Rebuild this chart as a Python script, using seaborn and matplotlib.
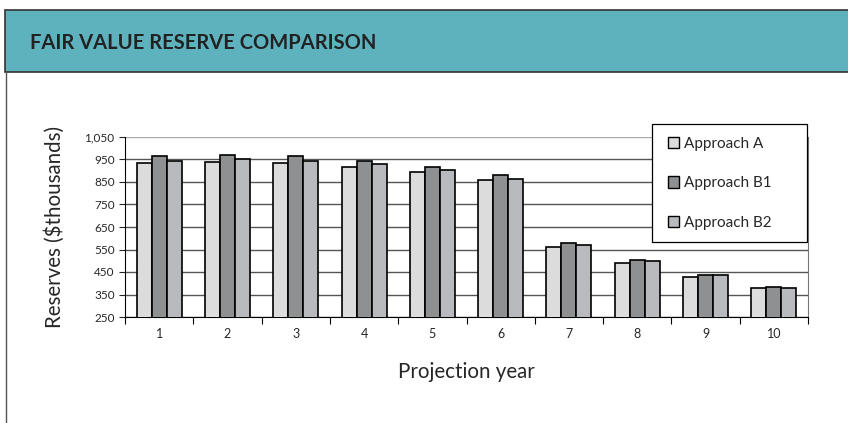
import matplotlib
matplotlib.use("Agg")
import matplotlib.pyplot as plt
from matplotlib.patches import Rectangle
from matplotlib.lines import Line2D
import numpy as np
import pandas as pd
import seaborn as sns

years = [1, 2, 3, 4, 5, 6, 7, 8, 9, 10]
approach_a = [935, 937, 933, 918, 893, 859, 562, 492, 428, 377]
approach_b1 = [964, 970, 967, 944, 918, 879, 580, 502, 438, 382]
approach_b2 = [944, 950, 944, 928, 902, 865, 572, 498, 435, 377]
series_names = ["Approach A", "Approach B1", "Approach B2"]
colors = ["#dcdcdd", "#8f9092", "#b9babd"]
y_ticks = [250, 350, 450, 550, 650, 750, 850, 950, 1050]

df = pd.DataFrame({
    "year": years * 3,
    "value": approach_a + approach_b1 + approach_b2,
    "approach": [s for s in series_names for _ in years],
})

sns.set_style("white")
plt.rcParams["font.family"] = ["Lato", "DejaVu Sans"]

fig = plt.figure(figsize=(8.48, 4.23), dpi=100)
ax = fig.add_axes([125 / 848, 1 - 317 / 423, 683 / 848, 180 / 423])

# header band
fig.patches.append(Rectangle((5 / 848, 1 - 72 / 423), 850 / 848, 62 / 423,
                             transform=fig.transFigure, facecolor="#5eb2be",
                             edgecolor="#333333", linewidth=1.2, zorder=0))
fig.lines.append(Line2D([5.5 / 848, 5.5 / 848], [0, 1 - 72 / 423],
                        transform=fig.transFigure, color="#555555", linewidth=1))
fig.text(30 / 848, 1 - 43 / 423, "FAIR VALUE RESERVE COMPARISON",
         fontsize=14.5, fontweight="bold", color="#222222", va="center")

sns.barplot(data=df, x="year", y="value", hue="approach", palette=colors,
            width=0.66, edgecolor="black", linewidth=1.2, ax=ax,
            saturation=1, legend=False, zorder=3)

ax.set_xlim(-0.5, 9.5)
ax.set_ylim(250, 1050)
ax.set_yticks(y_ticks)
ax.set_yticklabels([f"{v:,}" for v in y_ticks], fontsize=8.5)
ax.set_xticks(np.arange(-0.5, 10.5, 1.0), minor=True)
ax.tick_params(axis="x", which="major", labelsize=9, length=0, pad=8)
ax.tick_params(axis="x", which="minor", length=5, width=0.8, bottom=True,
               direction="out", color="black")
ax.tick_params(axis="y", length=4, direction="out", left=True, width=0.8)
for v in y_ticks:
    ax.axhline(v, color="#555555" if v < 1050 else "#aaaaaa", linewidth=1, zorder=1)

ax.spines["top"].set_visible(False)
ax.spines["left"].set_color("black")
ax.spines["bottom"].set_color("black")
ax.spines["right"].set_color("#777777")
ax.set_xlabel("Projection year", fontsize=14.8, labelpad=16)
ax.set_ylabel("Reserves ($thousands)", fontsize=14.8, labelpad=14)

# legend box
fig.patches.append(Rectangle((652 / 848, 1 - 242 / 423), 155 / 848, 118 / 423,
                             transform=fig.transFigure, facecolor="white",
                             edgecolor="black", linewidth=0.9, zorder=9))
handles = [Rectangle((0, 0), 1, 1, facecolor=c, edgecolor="black", linewidth=1)
           for c in colors]
leg = fig.legend(handles, series_names, loc="upper left",
                 bbox_to_anchor=(663 / 848, 1 - 132 / 423),
                 frameon=False, fontsize=11,
                 handlelength=0.75, handleheight=0.75, handletextpad=0.3,
                 labelspacing=1.68, borderpad=0.3, borderaxespad=0)
leg.set_zorder(10)

fig.savefig("out.png", dpi=100)
